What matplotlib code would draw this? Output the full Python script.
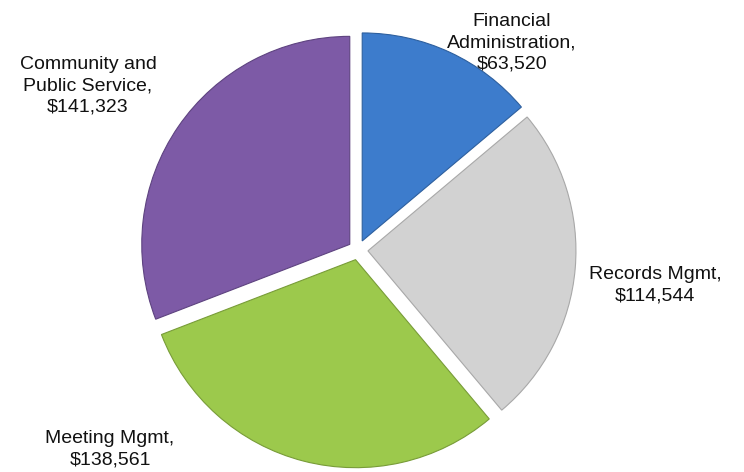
import matplotlib.pyplot as plt

labels = ["Financial\nAdministration,\n$63,520", "Records Mgmt,\n$114,544",
          "Meeting Mgmt,\n$138,561", "Community and\nPublic Service,\n$141,323"]
values = [63520, 114544, 138561, 141323]
colors = ["#3d7ccc", "#d2d2d2", "#9cc94c", "#7d5aa6"]
edges = ["#2d5f9e", "#a8a8a8", "#789c38", "#5e4380"]

W, H = 744, 472
cx, cy, r = 358, 250, 208
lim = 1.2

fig = plt.figure(figsize=(W / 100, H / 100), dpi=100)
side = 2 * lim * r
ax = fig.add_axes([(cx - side / 2) / W, (H - cy - side / 2) / H, side / W, side / H])
wedges, _ = ax.pie(values, colors=colors, startangle=90, counterclock=False,
                   explode=[0.048] * 4, radius=1,
                   wedgeprops=dict(linewidth=0.8))
for w, ec in zip(wedges, edges):
    w.set_edgecolor(ec)
ax.set_xlim(-lim, lim)
ax.set_ylim(-lim, lim)
ax.set_aspect("equal")
ax.axis("off")

# label positions in pixels (from top-left)
label_pos = [(512, 43), (655, 285), (110, 449), (88, 86)]
for text, (x, y) in zip(labels, label_pos):
    fig.text(x / W, 1 - y / H, text, ha="center", va="center",
             fontsize=14, family="Liberation Sans", linespacing=1.32,
             color="#111111")

fig.savefig("out.png", dpi=100)
